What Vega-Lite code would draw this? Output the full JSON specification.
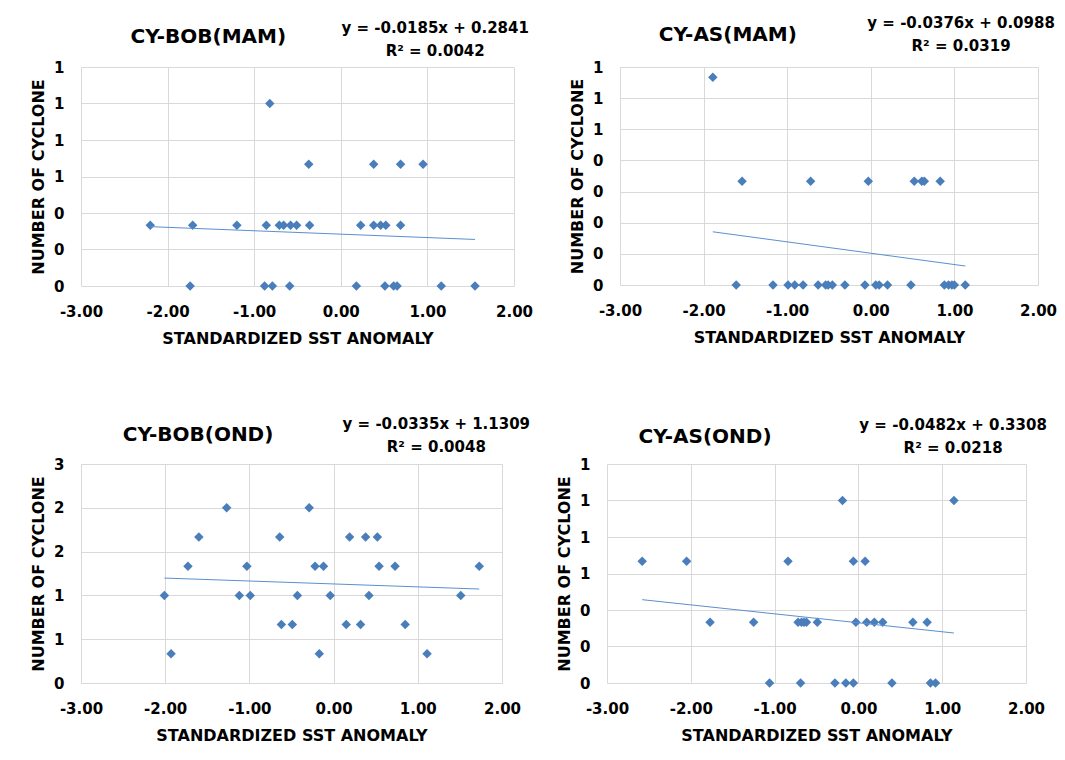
{
  "$schema": "https://vega.github.io/schema/vega-lite/v6.json",
  "background": "white",
  "padding": {"left": 30, "top": 16, "right": 0, "bottom": 0},
  "config": {
    "locale": {"number": {"decimal": ".", "thousands": ",", "grouping": [3], "currency": ["", ""], "minus": "-"}},
    "view": {"stroke": null},
    "axis": {
      "labelFont": "DejaVu Sans", "labelFontWeight": "bold", "labelFontSize": 15, "labelColor": "#000000",
      "titleFont": "DejaVu Sans", "titleFontWeight": "bold", "titleFontSize": 16, "titleColor": "#000000",
      "grid": true, "gridColor": "#d9d9d9", "gridWidth": 1, "domain": false, "ticks": false, "tickSize": 0,
      "tickCount": 20, "labelOverlap": false
    },
    "axisX": {"labelPadding": 18, "titlePadding": 11, "labelFlush": false},
    "axisY": {"labelPadding": 17, "titlePadding": 7, "labelFlush": false}
  },
  "datasets": {
    "pts": [
      {"panel": "CY-BOB(MAM)", "sst": -2.20, "n": 0.333},
      {"panel": "CY-BOB(MAM)", "sst": -1.71, "n": 0.333},
      {"panel": "CY-BOB(MAM)", "sst": -1.20, "n": 0.333},
      {"panel": "CY-BOB(MAM)", "sst": -0.86, "n": 0.333},
      {"panel": "CY-BOB(MAM)", "sst": -0.71, "n": 0.333},
      {"panel": "CY-BOB(MAM)", "sst": -0.66, "n": 0.333},
      {"panel": "CY-BOB(MAM)", "sst": -0.58, "n": 0.333},
      {"panel": "CY-BOB(MAM)", "sst": -0.51, "n": 0.333},
      {"panel": "CY-BOB(MAM)", "sst": -0.36, "n": 0.333},
      {"panel": "CY-BOB(MAM)", "sst": 0.23, "n": 0.333},
      {"panel": "CY-BOB(MAM)", "sst": 0.38, "n": 0.333},
      {"panel": "CY-BOB(MAM)", "sst": 0.46, "n": 0.333},
      {"panel": "CY-BOB(MAM)", "sst": 0.52, "n": 0.333},
      {"panel": "CY-BOB(MAM)", "sst": 0.69, "n": 0.333},
      {"panel": "CY-BOB(MAM)", "sst": -0.37, "n": 0.667},
      {"panel": "CY-BOB(MAM)", "sst": 0.38, "n": 0.667},
      {"panel": "CY-BOB(MAM)", "sst": 0.69, "n": 0.667},
      {"panel": "CY-BOB(MAM)", "sst": 0.95, "n": 0.667},
      {"panel": "CY-BOB(MAM)", "sst": -0.82, "n": 1.0},
      {"panel": "CY-BOB(MAM)", "sst": -1.74, "n": 0},
      {"panel": "CY-BOB(MAM)", "sst": -0.88, "n": 0},
      {"panel": "CY-BOB(MAM)", "sst": -0.79, "n": 0},
      {"panel": "CY-BOB(MAM)", "sst": -0.59, "n": 0},
      {"panel": "CY-BOB(MAM)", "sst": 0.18, "n": 0},
      {"panel": "CY-BOB(MAM)", "sst": 0.51, "n": 0},
      {"panel": "CY-BOB(MAM)", "sst": 0.61, "n": 0},
      {"panel": "CY-BOB(MAM)", "sst": 0.65, "n": 0},
      {"panel": "CY-BOB(MAM)", "sst": 1.16, "n": 0},
      {"panel": "CY-BOB(MAM)", "sst": 1.55, "n": 0},

      {"panel": "CY-AS(MAM)", "sst": -1.89, "n": 0.667},
      {"panel": "CY-AS(MAM)", "sst": -1.54, "n": 0.333},
      {"panel": "CY-AS(MAM)", "sst": -0.72, "n": 0.333},
      {"panel": "CY-AS(MAM)", "sst": -0.03, "n": 0.333},
      {"panel": "CY-AS(MAM)", "sst": 0.52, "n": 0.333},
      {"panel": "CY-AS(MAM)", "sst": 0.61, "n": 0.333},
      {"panel": "CY-AS(MAM)", "sst": 0.64, "n": 0.333},
      {"panel": "CY-AS(MAM)", "sst": 0.83, "n": 0.333},
      {"panel": "CY-AS(MAM)", "sst": -1.61, "n": 0},
      {"panel": "CY-AS(MAM)", "sst": -1.17, "n": 0},
      {"panel": "CY-AS(MAM)", "sst": -0.99, "n": 0},
      {"panel": "CY-AS(MAM)", "sst": -0.91, "n": 0},
      {"panel": "CY-AS(MAM)", "sst": -0.81, "n": 0},
      {"panel": "CY-AS(MAM)", "sst": -0.63, "n": 0},
      {"panel": "CY-AS(MAM)", "sst": -0.54, "n": 0},
      {"panel": "CY-AS(MAM)", "sst": -0.51, "n": 0},
      {"panel": "CY-AS(MAM)", "sst": -0.46, "n": 0},
      {"panel": "CY-AS(MAM)", "sst": -0.31, "n": 0},
      {"panel": "CY-AS(MAM)", "sst": -0.07, "n": 0},
      {"panel": "CY-AS(MAM)", "sst": 0.06, "n": 0},
      {"panel": "CY-AS(MAM)", "sst": 0.10, "n": 0},
      {"panel": "CY-AS(MAM)", "sst": 0.20, "n": 0},
      {"panel": "CY-AS(MAM)", "sst": 0.48, "n": 0},
      {"panel": "CY-AS(MAM)", "sst": 0.88, "n": 0},
      {"panel": "CY-AS(MAM)", "sst": 0.93, "n": 0},
      {"panel": "CY-AS(MAM)", "sst": 0.97, "n": 0},
      {"panel": "CY-AS(MAM)", "sst": 1.00, "n": 0},
      {"panel": "CY-AS(MAM)", "sst": 1.13, "n": 0},

      {"panel": "CY-BOB(OND)", "sst": -1.27, "n": 2.0},
      {"panel": "CY-BOB(OND)", "sst": -0.29, "n": 2.0},
      {"panel": "CY-BOB(OND)", "sst": -1.60, "n": 1.667},
      {"panel": "CY-BOB(OND)", "sst": -0.64, "n": 1.667},
      {"panel": "CY-BOB(OND)", "sst": 0.19, "n": 1.667},
      {"panel": "CY-BOB(OND)", "sst": 0.38, "n": 1.667},
      {"panel": "CY-BOB(OND)", "sst": 0.52, "n": 1.667},
      {"panel": "CY-BOB(OND)", "sst": -1.73, "n": 1.333},
      {"panel": "CY-BOB(OND)", "sst": -1.03, "n": 1.333},
      {"panel": "CY-BOB(OND)", "sst": -0.22, "n": 1.333},
      {"panel": "CY-BOB(OND)", "sst": -0.12, "n": 1.333},
      {"panel": "CY-BOB(OND)", "sst": 0.54, "n": 1.333},
      {"panel": "CY-BOB(OND)", "sst": 0.73, "n": 1.333},
      {"panel": "CY-BOB(OND)", "sst": 1.73, "n": 1.333},
      {"panel": "CY-BOB(OND)", "sst": -2.01, "n": 1.0},
      {"panel": "CY-BOB(OND)", "sst": -1.12, "n": 1.0},
      {"panel": "CY-BOB(OND)", "sst": -0.99, "n": 1.0},
      {"panel": "CY-BOB(OND)", "sst": -0.43, "n": 1.0},
      {"panel": "CY-BOB(OND)", "sst": -0.04, "n": 1.0},
      {"panel": "CY-BOB(OND)", "sst": 0.42, "n": 1.0},
      {"panel": "CY-BOB(OND)", "sst": 1.51, "n": 1.0},
      {"panel": "CY-BOB(OND)", "sst": -0.62, "n": 0.667},
      {"panel": "CY-BOB(OND)", "sst": -0.49, "n": 0.667},
      {"panel": "CY-BOB(OND)", "sst": 0.15, "n": 0.667},
      {"panel": "CY-BOB(OND)", "sst": 0.32, "n": 0.667},
      {"panel": "CY-BOB(OND)", "sst": 0.85, "n": 0.667},
      {"panel": "CY-BOB(OND)", "sst": -1.93, "n": 0.333},
      {"panel": "CY-BOB(OND)", "sst": -0.17, "n": 0.333},
      {"panel": "CY-BOB(OND)", "sst": 1.11, "n": 0.333},

      {"panel": "CY-AS(OND)", "sst": -0.19, "n": 1.0},
      {"panel": "CY-AS(OND)", "sst": 1.14, "n": 1.0},
      {"panel": "CY-AS(OND)", "sst": -2.58, "n": 0.667},
      {"panel": "CY-AS(OND)", "sst": -2.05, "n": 0.667},
      {"panel": "CY-AS(OND)", "sst": -0.84, "n": 0.667},
      {"panel": "CY-AS(OND)", "sst": -0.06, "n": 0.667},
      {"panel": "CY-AS(OND)", "sst": 0.08, "n": 0.667},
      {"panel": "CY-AS(OND)", "sst": -1.77, "n": 0.333},
      {"panel": "CY-AS(OND)", "sst": -1.25, "n": 0.333},
      {"panel": "CY-AS(OND)", "sst": -0.72, "n": 0.333},
      {"panel": "CY-AS(OND)", "sst": -0.68, "n": 0.333},
      {"panel": "CY-AS(OND)", "sst": -0.65, "n": 0.333},
      {"panel": "CY-AS(OND)", "sst": -0.62, "n": 0.333},
      {"panel": "CY-AS(OND)", "sst": -0.49, "n": 0.333},
      {"panel": "CY-AS(OND)", "sst": -0.03, "n": 0.333},
      {"panel": "CY-AS(OND)", "sst": 0.10, "n": 0.333},
      {"panel": "CY-AS(OND)", "sst": 0.19, "n": 0.333},
      {"panel": "CY-AS(OND)", "sst": 0.29, "n": 0.333},
      {"panel": "CY-AS(OND)", "sst": 0.65, "n": 0.333},
      {"panel": "CY-AS(OND)", "sst": 0.82, "n": 0.333},
      {"panel": "CY-AS(OND)", "sst": -1.06, "n": 0},
      {"panel": "CY-AS(OND)", "sst": -0.69, "n": 0},
      {"panel": "CY-AS(OND)", "sst": -0.28, "n": 0},
      {"panel": "CY-AS(OND)", "sst": -0.15, "n": 0},
      {"panel": "CY-AS(OND)", "sst": -0.06, "n": 0},
      {"panel": "CY-AS(OND)", "sst": 0.40, "n": 0},
      {"panel": "CY-AS(OND)", "sst": 0.86, "n": 0},
      {"panel": "CY-AS(OND)", "sst": 0.92, "n": 0}
    ],
    "labels": [
      {"panel": "CY-BOB(MAM)", "eq": "y = -0.0185x + 0.2841\nR² = 0.0042"},
      {"panel": "CY-AS(MAM)", "eq": "y = -0.0376x + 0.0988\nR² = 0.0319"},
      {"panel": "CY-BOB(OND)", "eq": "y = -0.0335x + 1.1309\nR² = 0.0048"},
      {"panel": "CY-AS(OND)", "eq": "y = -0.0482x + 0.3308\nR² = 0.0218"}
    ]
  },
  "spacing": 71,
  "vconcat": [
    {
      "spacing": 36,
      "hconcat": [
        {
          "width": 433, "height": 219,
          "layer": [
            {
              "data": {"name": "pts"},
              "transform": [{"filter": "datum.panel === 'CY-BOB(MAM)'"}],
              "mark": {"type": "point", "shape": "diamond", "filled": true, "size": 90, "color": "#4a7ebb", "opacity": 1},
              "encoding": {
                "x": {"field": "sst", "type": "quantitative", "scale": {"domain": [-3, 2], "nice": false, "zero": false}, "axis": {"values": [-3, -2, -1, 0, 1, 2], "format": ".2f", "title": "STANDARDIZED SST ANOMALY"}},
                "y": {"field": "n", "type": "quantitative", "scale": {"domain": [0, 1.2], "nice": false, "zero": false}, "axis": {"values": [0, 0.2, 0.4, 0.6, 0.8, 1.0, 1.2], "format": ".0f", "title": "NUMBER OF CYCLONE"}}
              }
            },
            {
              "data": {"name": "pts"},
              "transform": [{"filter": "datum.panel === 'CY-BOB(MAM)'"}, {"regression": "n", "on": "sst"}],
              "mark": {"type": "line", "color": "#5b8fd0", "strokeWidth": 1},
              "encoding": {"x": {"field": "sst", "type": "quantitative"}, "y": {"field": "n", "type": "quantitative"}}
            },
            {
              "data": {"name": "labels"},
              "transform": [{"filter": "datum.panel === 'CY-BOB(MAM)'"}],
              "mark": {"type": "text", "font": "DejaVu Sans", "fontWeight": "bold", "fontSize": 20, "align": "center", "baseline": "alphabetic", "dy": -24, "color": "#000000"},
              "encoding": {"x": {"datum": -1.53}, "y": {"datum": 1.2}, "text": {"field": "panel"}}
            },
            {
              "data": {"name": "labels"},
              "transform": [{"filter": "datum.panel === 'CY-BOB(MAM)'"}],
              "mark": {"type": "text", "font": "DejaVu Sans", "fontWeight": "bold", "fontSize": 15, "align": "center", "baseline": "alphabetic", "lineBreak": "\n", "lineHeight": 23, "dy": -34, "color": "#000000"},
              "encoding": {"x": {"datum": 1.09}, "y": {"datum": 1.2}, "text": {"field": "eq"}}
            }
          ]
        },
        {
          "width": 418, "height": 218,
          "layer": [
            {
              "data": {"name": "pts"},
              "transform": [{"filter": "datum.panel === 'CY-AS(MAM)'"}],
              "mark": {"type": "point", "shape": "diamond", "filled": true, "size": 90, "color": "#4a7ebb", "opacity": 1},
              "encoding": {
                "x": {"field": "sst", "type": "quantitative", "scale": {"domain": [-3, 2], "nice": false, "zero": false}, "axis": {"values": [-3, -2, -1, 0, 1, 2], "format": ".2f", "title": "STANDARDIZED SST ANOMALY"}},
                "y": {"field": "n", "type": "quantitative", "scale": {"domain": [0, 0.7], "nice": false, "zero": false}, "axis": {"values": [0, 0.1, 0.2, 0.3, 0.4, 0.5, 0.6, 0.7], "format": ".0f", "title": "NUMBER OF CYCLONE"}}
              }
            },
            {
              "data": {"name": "pts"},
              "transform": [{"filter": "datum.panel === 'CY-AS(MAM)'"}, {"regression": "n", "on": "sst"}],
              "mark": {"type": "line", "color": "#5b8fd0", "strokeWidth": 1},
              "encoding": {"x": {"field": "sst", "type": "quantitative"}, "y": {"field": "n", "type": "quantitative"}}
            },
            {
              "data": {"name": "labels"},
              "transform": [{"filter": "datum.panel === 'CY-AS(MAM)'"}],
              "mark": {"type": "text", "font": "DejaVu Sans", "fontWeight": "bold", "fontSize": 20, "align": "center", "baseline": "alphabetic", "dy": -26, "color": "#000000"},
              "encoding": {"x": {"datum": -1.71}, "y": {"datum": 0.7}, "text": {"field": "panel"}}
            },
            {
              "data": {"name": "labels"},
              "transform": [{"filter": "datum.panel === 'CY-AS(MAM)'"}],
              "mark": {"type": "text", "font": "DejaVu Sans", "fontWeight": "bold", "fontSize": 15, "align": "center", "baseline": "alphabetic", "lineBreak": "\n", "lineHeight": 23, "dy": -39, "color": "#000000"},
              "encoding": {"x": {"datum": 1.08}, "y": {"datum": 0.7}, "text": {"field": "eq"}}
            }
          ]
        }
      ]
    },
    {
      "spacing": 25,
      "hconcat": [
        {
          "width": 421, "height": 219,
          "layer": [
            {
              "data": {"name": "pts"},
              "transform": [{"filter": "datum.panel === 'CY-BOB(OND)'"}],
              "mark": {"type": "point", "shape": "diamond", "filled": true, "size": 90, "color": "#4a7ebb", "opacity": 1},
              "encoding": {
                "x": {"field": "sst", "type": "quantitative", "scale": {"domain": [-3, 2], "nice": false, "zero": false}, "axis": {"values": [-3, -2, -1, 0, 1, 2], "format": ".2f", "title": "STANDARDIZED SST ANOMALY"}},
                "y": {"field": "n", "type": "quantitative", "scale": {"domain": [0, 2.5], "nice": false, "zero": false}, "axis": {"values": [0, 0.5, 1.0, 1.5, 2.0, 2.5], "format": ".0f", "title": "NUMBER OF CYCLONE"}}
              }
            },
            {
              "data": {"name": "pts"},
              "transform": [{"filter": "datum.panel === 'CY-BOB(OND)'"}, {"regression": "n", "on": "sst"}],
              "mark": {"type": "line", "color": "#5b8fd0", "strokeWidth": 1},
              "encoding": {"x": {"field": "sst", "type": "quantitative"}, "y": {"field": "n", "type": "quantitative"}}
            },
            {
              "data": {"name": "labels"},
              "transform": [{"filter": "datum.panel === 'CY-BOB(OND)'"}],
              "mark": {"type": "text", "font": "DejaVu Sans", "fontWeight": "bold", "fontSize": 20, "align": "center", "baseline": "alphabetic", "dy": -23, "color": "#000000"},
              "encoding": {"x": {"datum": -1.61}, "y": {"datum": 2.5}, "text": {"field": "panel"}}
            },
            {
              "data": {"name": "labels"},
              "transform": [{"filter": "datum.panel === 'CY-BOB(OND)'"}],
              "mark": {"type": "text", "font": "DejaVu Sans", "fontWeight": "bold", "fontSize": 15, "align": "center", "baseline": "alphabetic", "lineBreak": "\n", "lineHeight": 23, "dy": -35, "color": "#000000"},
              "encoding": {"x": {"datum": 1.22}, "y": {"datum": 2.5}, "text": {"field": "eq"}}
            }
          ]
        },
        {
          "width": 419, "height": 219,
          "layer": [
            {
              "data": {"name": "pts"},
              "transform": [{"filter": "datum.panel === 'CY-AS(OND)'"}],
              "mark": {"type": "point", "shape": "diamond", "filled": true, "size": 90, "color": "#4a7ebb", "opacity": 1},
              "encoding": {
                "x": {"field": "sst", "type": "quantitative", "scale": {"domain": [-3, 2], "nice": false, "zero": false}, "axis": {"values": [-3, -2, -1, 0, 1, 2], "format": ".2f", "title": "STANDARDIZED SST ANOMALY"}},
                "y": {"field": "n", "type": "quantitative", "scale": {"domain": [0, 1.2], "nice": false, "zero": false}, "axis": {"values": [0, 0.2, 0.4, 0.6, 0.8, 1.0, 1.2], "format": ".0f", "title": "NUMBER OF CYCLONE"}}
              }
            },
            {
              "data": {"name": "pts"},
              "transform": [{"filter": "datum.panel === 'CY-AS(OND)'"}, {"regression": "n", "on": "sst"}],
              "mark": {"type": "line", "color": "#5b8fd0", "strokeWidth": 1},
              "encoding": {"x": {"field": "sst", "type": "quantitative"}, "y": {"field": "n", "type": "quantitative"}}
            },
            {
              "data": {"name": "labels"},
              "transform": [{"filter": "datum.panel === 'CY-AS(OND)'"}],
              "mark": {"type": "text", "font": "DejaVu Sans", "fontWeight": "bold", "fontSize": 20, "align": "center", "baseline": "alphabetic", "dy": -21, "color": "#000000"},
              "encoding": {"x": {"datum": -1.83}, "y": {"datum": 1.2}, "text": {"field": "panel"}}
            },
            {
              "data": {"name": "labels"},
              "transform": [{"filter": "datum.panel === 'CY-AS(OND)'"}],
              "mark": {"type": "text", "font": "DejaVu Sans", "fontWeight": "bold", "fontSize": 15, "align": "center", "baseline": "alphabetic", "lineBreak": "\n", "lineHeight": 23, "dy": -34, "color": "#000000"},
              "encoding": {"x": {"datum": 1.13}, "y": {"datum": 1.2}, "text": {"field": "eq"}}
            }
          ]
        }
      ]
    }
  ]
}
